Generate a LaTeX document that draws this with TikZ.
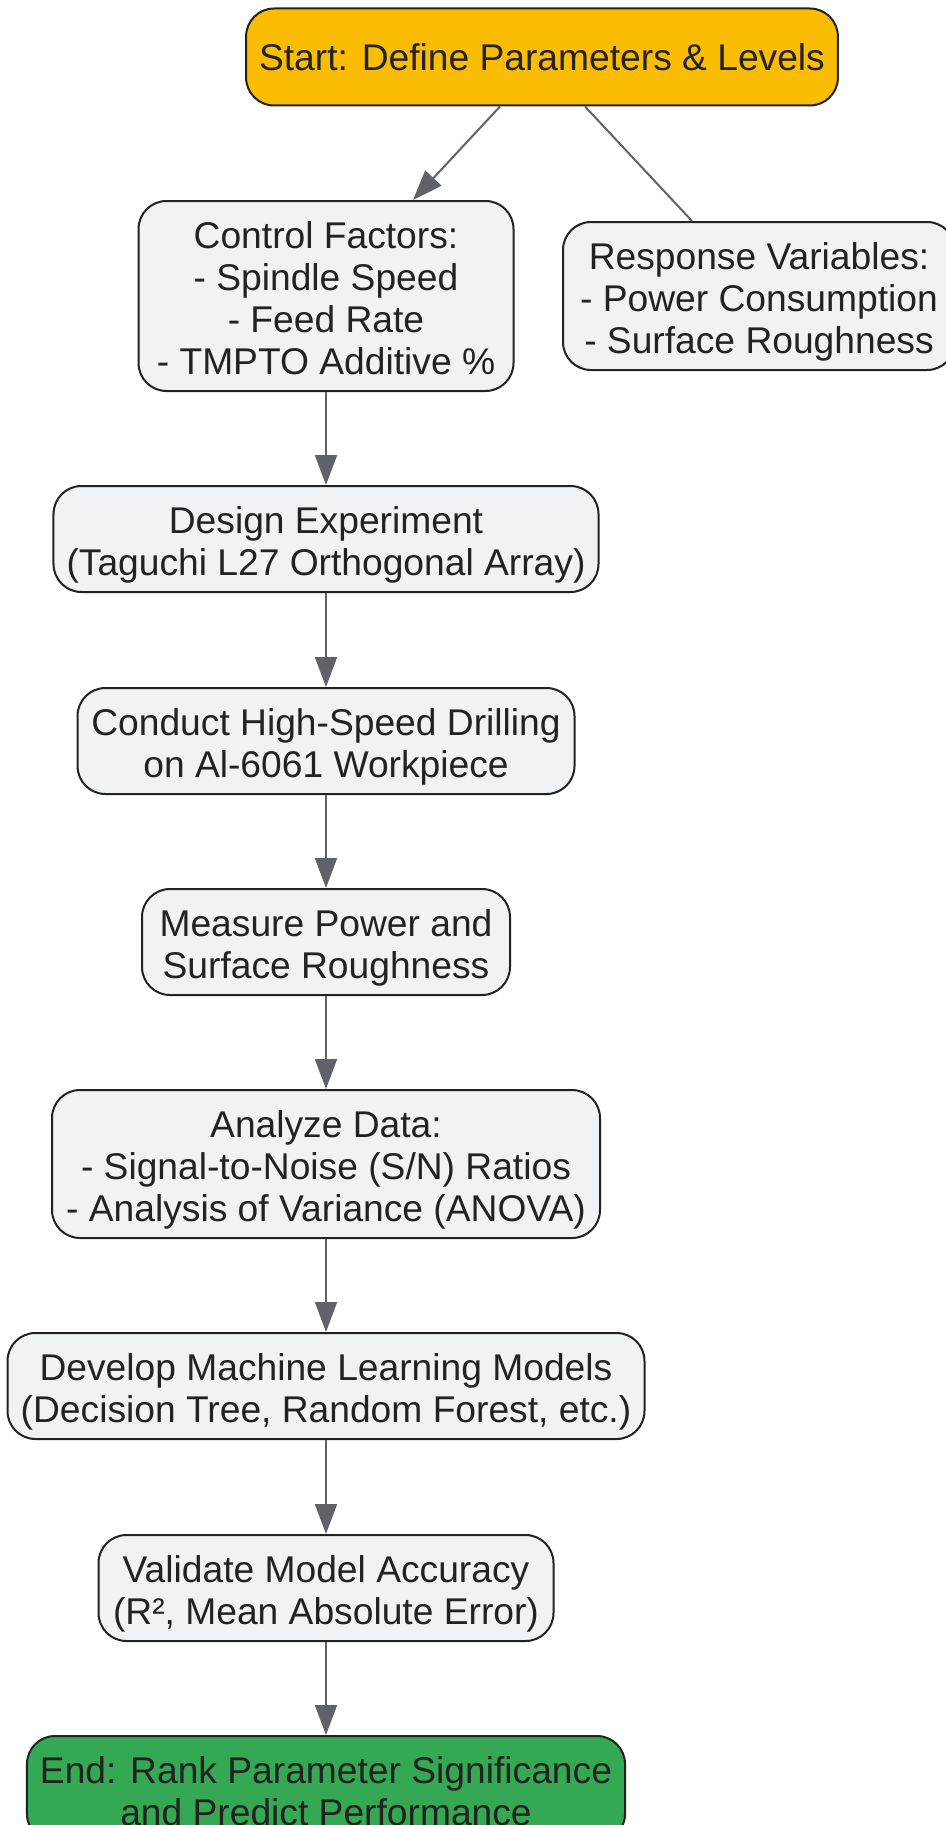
\documentclass[tikz,border=0pt]{standalone}
\usepackage{fontspec}
\setmainfont{Liberation Sans}
\usetikzlibrary{arrows.meta}
\definecolor{boxfill}{HTML}{F1F2F4}
\definecolor{boxline}{HTML}{222222}
\definecolor{startfill}{HTML}{FBBC04}
\definecolor{endfill}{HTML}{34A853}
\definecolor{flowline}{HTML}{5F6368}
% pushes the text of a box down a little
\newcommand{\firstline}[1][19.5pt]{\rule{0pt}{#1}}
\tikzset{
    stepbox/.style={draw=boxline, fill=boxfill, line width=1pt,
        rounded corners=14pt, align=center, text=boxline, inner xsep=6.5pt,
        inner ysep=2pt, font=\fontsize{18.6}{21}\selectfont},
    twoline/.style={stepbox, minimum height=53pt},
    flow/.style={draw=flowline, line width=1pt},
    >={Triangle[length=15pt,width=11pt]},
}
\begin{document}
\begin{tikzpicture}[x=0.5pt, y=-0.5pt]
    \useasboundingbox (0,0) rectangle (946,1825);
    \node[stepbox, fill=startfill, minimum width=294.5pt, minimum height=48.5pt]
        (start) at (542,57) {Start: Define Parameters \& Levels};
    \node[stepbox, minimum width=187.5pt, minimum height=95pt] (ctrl) at (326,296)
        {\firstline[16pt]Control Factors:\\- Spindle Speed\\- Feed Rate\\- TMPTO Additive \%};
    \node[stepbox, minimum width=196pt, minimum height=74pt] (resp) at (759,296)
        {\firstline Response Variables:\\- Power Consumption\\- Surface Roughness};
    \node[twoline, minimum width=272.5pt] (design) at (326,539)
        {\firstline Design Experiment\\(Taguchi L27 Orthogonal Array)};
    \node[twoline, minimum width=248.5pt] (conduct) at (326,741)
        {\firstline Conduct High-Speed Drilling\\on Al-6061 Workpiece};
    \node[twoline, minimum width=184pt] (measure) at (326,942)
        {\firstline Measure Power and\\Surface Roughness};
    \node[stepbox, minimum width=274pt, minimum height=74pt] (analyze) at (326,1164)
        {\firstline Analyze Data:\\- Signal-to-Noise (S/N) Ratios\\- Analysis of Variance (ANOVA)};
    \node[twoline, minimum width=318.5pt] (develop) at (326,1386)
        {\firstline Develop Machine Learning Models\\(Decision Tree, Random Forest, etc.)};
    \node[twoline, minimum width=227.5pt] (validate) at (326,1588)
        {\firstline Validate Model Accuracy\\(R², Mean Absolute Error)};
    \node[twoline, fill=endfill, minimum width=297.5pt] (end) at (326,1789)
        {\firstline[16pt]End: Rank Parameter Significance\\and Predict Performance};

    % links from the start box
    \draw[flow, ->] ([xshift=-21pt]start.south) -- ([xshift=43.5pt]ctrl.north);
    \draw[flow] ([xshift=21.5pt]start.south) -- ([xshift=-33.5pt]resp.north);
    % main chain
    \foreach \a/\b in {ctrl/design, design/conduct, conduct/measure,
        measure/analyze, analyze/develop, develop/validate, validate/end}
        \draw[flow, ->] (\a) -- (\b);
\end{tikzpicture}
\end{document}
